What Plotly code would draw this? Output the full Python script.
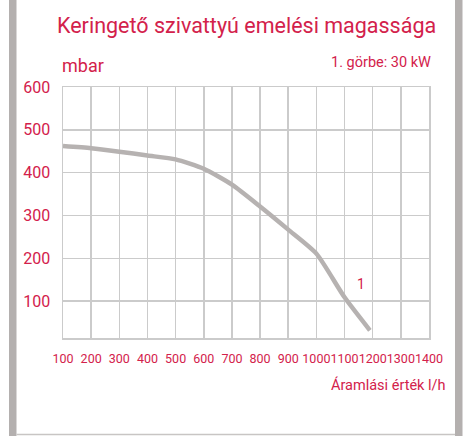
import plotly.graph_objects as go

# Data
flow = [100, 200, 300, 400, 500, 600, 700, 800, 900, 1000, 1100, 1190]
head = [462, 457, 449, 440, 431, 409, 372, 321, 267, 211, 109, 32]
x_ticks = [100, 200, 300, 400, 500, 600, 700, 800, 900, 1000, 1100, 1200, 1300, 1400]
y_ticks = [100, 200, 300, 400, 500, 600]
curve_label = "1"
curve_label_pos = (1160, 140)

RED = "#d3214b"
GRID = "#cbcbcb"
CURVE = "#b6b2b1"
FONT = "Roboto, 'DejaVu Sans', sans-serif"

W, H = 474, 436
L, R, T, B = 63, 429, 87, 338

def px(x):
    return (x - L) / (R - L)

def py(y):
    return (B - y) / (B - T)

fig = go.Figure()
fig.add_trace(go.Scatter(
    x=flow, y=head, mode="lines",
    line=dict(color=CURVE, width=4.5, shape="spline", smoothing=0.6),
    hoverinfo="skip", showlegend=False,
))

fig.update_layout(
    width=W, height=H,
    margin=dict(l=L, r=W - R, t=T, b=H - B),
    paper_bgcolor="white", plot_bgcolor="white",
    font=dict(family=FONT, color=RED),
    showlegend=False,
    xaxis=dict(
        range=[100, 1400], tickvals=x_ticks, ticktext=[str(v) for v in x_ticks],
        showgrid=True, gridcolor=GRID, gridwidth=1.5,
        showline=True, linecolor=GRID, linewidth=1.5, mirror=True,
        zeroline=False, ticks="", ticklabelstandoff=8, tickangle=0,
        automargin=False,
        tickfont=dict(size=12.5, color=RED, family=FONT),
        fixedrange=True,
    ),
    yaxis=dict(
        range=[14, 600], tickvals=y_ticks,
        showgrid=True, gridcolor=GRID, gridwidth=1.5,
        showline=True, linecolor=GRID, linewidth=1.5, mirror=True,
        zeroline=False, ticks="", ticklabelstandoff=8, automargin=False,
        tickfont=dict(size=16, color=RED, family=FONT),
        fixedrange=True,
    ),
    annotations=[
        dict(text="Keringető szivattyú emelési magassága", xref="paper", yref="paper",
             x=px(55), y=py(25), xanchor="left", yanchor="middle", showarrow=False,
             font=dict(size=21.5, color=RED, family=FONT)),
        dict(text="mbar", xref="paper", yref="paper",
             x=px(60), y=py(65), xanchor="left", yanchor="middle", showarrow=False,
             font=dict(size=18, color=RED, family=FONT)),
        dict(text="1. görbe: 30 kW", xref="paper", yref="paper",
             x=px(433), y=py(62), xanchor="right", yanchor="middle", showarrow=False,
             font=dict(size=14.5, color=RED, family=FONT)),
        dict(text="Áramlási érték l/h", xref="paper", yref="paper",
             x=px(448), y=py(385), xanchor="right", yanchor="middle", showarrow=False,
             font=dict(size=14.5, color=RED, family=FONT)),
        dict(text=curve_label, x=curve_label_pos[0], y=curve_label_pos[1],
             xref="x", yref="y", showarrow=False,
             font=dict(size=14, color=RED, family=FONT)),
    ],
    shapes=[
        dict(type="rect", xref="paper", yref="paper", x0=px(9), x1=px(16.5), y0=py(H + 5), y1=py(-5),
             fillcolor="#b4b0af", line=dict(width=0), layer="below"),
        dict(type="rect", xref="paper", yref="paper", x0=px(455), x1=px(462.5), y0=py(H + 5), y1=py(-5),
             fillcolor="#b4b0af", line=dict(width=0), layer="below"),
        dict(type="line", xref="paper", yref="paper", x0=px(16.5), x1=px(455), y0=py(434.5), y1=py(434.5),
             line=dict(color="#c8c5c4", width=1.5), layer="below"),
    ],
)

fig.write_html(
    "out.html",
    config={"displayModeBar": False, "staticPlot": True},
    post_script="document.body.style.margin='0';document.body.style.overflow='hidden';",
)
